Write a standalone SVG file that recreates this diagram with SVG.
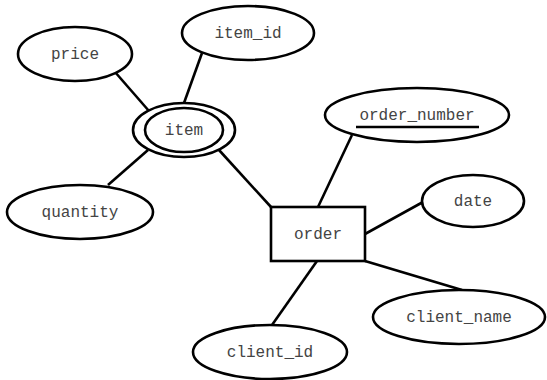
<svg xmlns="http://www.w3.org/2000/svg" width="547" height="380" viewBox="0 0 547 380">
<style>
.s{fill:#fff;stroke:#000;stroke-width:2.6}
.c line{stroke:#000;stroke-width:2.6}
text{font-family:"Liberation Mono","Courier New",monospace;font-size:16px;fill:#444;text-anchor:middle}
</style>
<rect width="547" height="380" fill="#fff"/>
<g class="c">
<line x1="115" y1="72" x2="149" y2="111"/>
<line x1="202" y1="53" x2="184" y2="103"/>
<line x1="108" y1="185" x2="148" y2="150"/>
<line x1="219" y1="150" x2="271" y2="207"/>
<line x1="352" y1="135" x2="318" y2="207"/>
<line x1="423" y1="202" x2="365" y2="234"/>
<line x1="365" y1="261" x2="462" y2="290"/>
<line x1="317" y1="261" x2="272" y2="325"/>
</g>
<g id="price"><ellipse class="s" cx="75" cy="54" rx="57" ry="27"/><text x="75" y="59">price</text></g>
<g id="item_id"><ellipse class="s" cx="248" cy="33" rx="66" ry="27"/><text x="248" y="38">item_id</text></g>
<g id="item"><ellipse class="s" cx="184" cy="130" rx="51" ry="27"/><ellipse class="s" cx="184" cy="130" rx="39" ry="22"/><text x="184" y="135">item</text></g>
<g id="quantity"><ellipse class="s" cx="80" cy="212" rx="73" ry="27"/><text x="80" y="217">quantity</text></g>
<g id="order"><rect class="s" x="271" y="207" width="94" height="54"/><text x="318" y="239">order</text></g>
<g id="order_number"><ellipse class="s" cx="417" cy="115" rx="92" ry="27"/><text x="417" y="120">order_number</text><line x1="356" y1="127" x2="479" y2="127" stroke="#000" stroke-width="2.6"/></g>
<g id="date"><ellipse class="s" cx="473" cy="201" rx="51" ry="26"/><text x="473" y="206">date</text></g>
<g id="client_name"><ellipse class="s" cx="459" cy="317" rx="86" ry="27"/><text x="459" y="322">client_name</text></g>
<g id="client_id"><ellipse class="s" cx="270" cy="352" rx="77" ry="27"/><text x="270" y="357">client_id</text></g>
</svg>
